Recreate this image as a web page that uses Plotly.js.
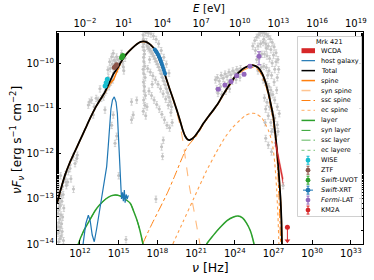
<!DOCTYPE html>
<html><head><meta charset="utf-8">
<script src="https://cdn.plot.ly/plotly-3.0.1.min.js"></script>
<style>html,body{margin:0;padding:0;background:#fff}#plot{width:374px;height:280px}</style>
</head><body><div id="plot"></div>
<script>
// All values are log10(nu / Hz) and log10(nuFnu / erg s^-1 cm^-2).
const totalNu = [10.22,10.5,10.84,11.2,11.6,12.0,12.4,12.8,13.2,13.6,13.94,14.3,14.6,14.97,15.3,15.6,16.01,16.4,16.7,16.91,17.2,17.5,17.82,18.1,18.46,18.75,18.98,19.25,19.5,19.75,19.95,20.15,20.35,20.5,20.7,20.92,21.25,21.57,22.0,22.35,22.7,23.0,23.5,24.02,24.5,24.8,25.1,25.44,25.8,26.1,26.4,26.61,26.8,27.0,27.12,27.25,27.38,27.48,27.56,27.62,27.66];
const totalF  = [-13.10,-12.8,-12.47,-12.2,-11.95,-11.7,-11.45,-11.2,-10.97,-10.78,-10.62,-10.4,-10.22,-10.06,-9.9,-9.78,-9.66,-9.56,-9.51,-9.50,-9.52,-9.58,-9.69,-9.86,-10.13,-10.38,-10.58,-10.8,-11.02,-11.25,-11.45,-11.6,-11.68,-11.69,-11.66,-11.6,-11.47,-11.32,-11.15,-11.02,-10.88,-10.73,-10.5,-10.28,-10.14,-10.08,-10.04,-10.03,-10.08,-10.2,-10.42,-10.65,-10.9,-11.2,-11.5,-11.85,-12.3,-12.7,-13.06,-13.5,-14.0];
const spineF  = [-13.10,-12.8,-12.47,-12.2,-11.95,-11.7,-11.45,-11.2,-10.97,-10.78,-10.63,-10.43,-10.35,-10.09,-9.9,-9.78,-9.66,-9.56,-9.51,-9.50,-9.52,-9.58,-9.69,-9.86,-10.13,-10.38,-10.58,-10.8,-11.02,-11.25,-11.45,-11.6,-11.68,-11.69,-11.66,-11.6,-11.47,-11.32,-11.15,-11.02,-10.88,-10.73,-10.5,-10.28,-10.14,-10.08,-10.04,-10.03,-10.08,-10.2,-10.42,-10.65,-10.9,-11.2,-11.5,-11.85,-12.3,-12.7,-13.06,-13.5,-14.0];
const synSpineNu = [10.22,10.84,11.6,12.4,13.2,13.94,14.6,15.3,16.01,16.7,17.2,17.82,18.46,18.98,19.25,19.5,19.75,20.0,20.27,20.5,20.8,21.05,21.3,21.45];
const synSpineF  = [-13.10,-12.47,-11.95,-11.45,-10.97,-10.63,-10.35,-9.9,-9.66,-9.51,-9.52,-9.69,-10.13,-10.6,-10.83,-11.08,-11.35,-11.75,-12.3,-12.75,-13.2,-13.6,-14.0,-14.3];
const sscSpineNu = [16.85,17.5,18.2,18.8,19.4,19.9,20.3,20.6,20.92,21.25,21.57,22.0,22.35,22.7,23.0,23.5,24.02,24.5,24.8,25.1,25.44,25.8,26.1,26.4,26.61,26.8,27.0,27.12,27.25,27.35,27.43,27.5,27.55];
const sscSpineF  = [-14.0,-13.6,-13.2,-12.85,-12.45,-12.1,-11.85,-11.74,-11.64,-11.5,-11.34,-11.17,-11.04,-10.9,-10.75,-10.53,-10.31,-10.18,-10.12,-10.09,-10.08,-10.13,-10.26,-10.48,-10.72,-10.98,-11.3,-11.6,-12.0,-12.5,-13.0,-13.5,-14.0];
const ecSpineNu = [19.2,20.0,20.8,21.8,22.5,23.2,23.8,24.4,24.8,25.2,25.6,26.1,26.6,26.9,27.1,27.25,27.35,27.42];
const ecSpineF  = [-14.0,-13.5,-13.0,-12.38,-12.0,-11.65,-11.42,-11.25,-11.15,-11.1,-11.1,-11.2,-11.47,-11.75,-12.2,-12.8,-13.4,-14.0];
const hostNu = [12.15,12.26,12.45,12.65,12.8,12.95,13.11,13.3,13.55,13.8,14.07,14.2,14.26,14.4,14.52,14.66,14.8,14.9,14.96,15.0,15.08,15.16,15.22,15.3,15.36,15.44,15.5,15.58,15.66,15.75];
const hostF  = [-14.2,-13.91,-13.55,-13.36,-13.5,-13.8,-13.95,-13.65,-13.17,-12.75,-12.28,-11.8,-11.47,-11.0,-10.8,-10.73,-10.85,-11.1,-11.47,-11.75,-12.3,-12.8,-13.0,-12.85,-13.05,-12.8,-13.08,-12.9,-13.0,-12.92];
const synLayerNu = [11.7,11.87,12.3,12.75,13.2,13.53,14.0,14.4,14.75,15.1,15.5,15.91,16.2,16.42,16.65,16.88,17.0];
const synLayerF  = [-14.2,-14.0,-13.7,-13.47,-13.25,-13.13,-13.0,-12.93,-12.91,-12.93,-13.0,-13.1,-13.3,-13.47,-13.7,-14.0,-14.2];
const sscLayerNu = [21.7,21.82,22.3,22.84,23.4,23.9,24.25,24.6,24.9,25.2,25.49,25.6];
const sscLayerF  = [-14.1,-14.0,-13.82,-13.64,-13.48,-13.4,-13.38,-13.42,-13.53,-13.7,-14.0,-14.2];
const wcdaNu = [27.15,27.45,27.75];
const wcdaHi = [-11.70,-12.12,-12.55];
const wcdaLo = [-11.80,-12.24,-12.68];
const wiseNu = [13.95,14.03,14.12];
const wiseF  = [-10.49,-10.42,-10.34];
const ztfNu = [14.66,14.75,14.84];
const ztfF  = [-10.08,-10.05,-10.02];
const uvotNu = [15.22,15.28,15.33];
const uvotF  = [-9.86,-9.83,-9.81];
const xrtNu = [17.80,17.85,17.90,17.95,18.00,18.05,18.10,18.15,18.20,18.25,18.30,18.35,18.40,18.45,18.50,18.55,18.60];
const xrtF  = [-9.68,-9.70,-9.72,-9.74,-9.77,-9.79,-9.82,-9.85,-9.88,-9.92,-9.96,-10.00,-10.04,-10.09,-10.13,-10.18,-10.22];
const fermiNu = [22.72,23.24,23.71,24.15,24.72,25.18,25.88];
const fermiF  = [-10.56,-10.47,-10.39,-10.26,-10.23,-10.05,-9.83];
const fermiHi = [-10.53,-10.44,-10.36,-10.23,-10.20,-10.02,-9.73];
const fermiLo = [-10.59,-10.50,-10.42,-10.29,-10.26,-10.08,-10.02];
const km2aNu = [28.08];
const km2aF  = [-13.63];
const km2aLimit = [-13.93];
const archNu = [
10.28,10.32,10.36,10.30,10.42,10.38,10.48,10.34,10.30,10.52,10.44,10.36,10.58,10.48,10.40,10.30,10.55,10.45,10.35,10.65,10.70,10.60,10.75,10.66,10.82,10.88,10.92,10.50,10.28,10.62,10.72,10.26,10.40,10.55,11.10,11.23,11.23,11.46,11.62,11.75,11.30,11.50,11.80,11.05,10.95,
12.65,12.74,13.03,13.26,13.42,13.65,13.83,13.94,14.04,14.17,14.30,14.46,14.58,14.84,15.10,15.23,15.49,15.36,14.20,14.35,14.50,14.65,14.75,14.95,15.05,15.15,14.40,14.60,14.90,15.30,15.40,14.25,14.55,14.10,13.55,13.95,14.58,14.72,14.46,15.00,15.57,14.85,13.10,12.90,16.00,16.13,16.40,16.00,
16.90,16.92,16.95,16.88,16.98,17.00,16.93,16.96,17.02,16.90,16.95,17.05,16.92,17.00,16.97,17.08,16.94,17.03,16.91,17.10,
17.10,17.30,17.50,17.70,17.90,18.10,18.30,18.50,18.70,18.90,
17.20,17.30,17.40,17.50,17.60,17.70,17.80,17.90,18.00,18.10,18.20,18.30,18.40,18.50,18.60,18.70,18.80,18.90,19.00,19.10,
17.25,17.45,17.65,17.85,18.05,18.25,18.45,18.65,18.85,19.05,17.35,17.55,17.75,17.95,18.15,18.35,18.55,18.75,18.95,19.15,
17.15,17.40,17.60,17.20,18.46,18.33,17.89,18.40,
22.50,22.65,22.80,22.95,23.10,23.25,23.40,23.55,23.70,23.85,24.00,24.15,24.30,24.45,22.60,22.90,23.20,23.50,23.80,24.10,24.40,22.70,23.00,23.30,23.60,
25.40,25.55,25.70,25.85,26.00,26.15,26.30,26.45,26.60,26.75,26.90,27.05,27.20,27.35,
25.60,25.80,26.00,26.20,26.40,26.60,26.80,27.00,27.20,27.40,
25.70,25.90,26.10,26.30,26.50,26.70,26.90,27.10,27.30,
25.80,26.05,26.25,26.45,26.65,26.85,27.05,27.25,
26.20,26.35,26.50,26.65,26.80,26.95,27.10,27.30,27.45,
26.30,26.50,26.70,26.90,27.10,27.30,26.40,26.60,26.80,27.00,27.20,
26.25,26.45,26.55,26.75,26.85,27.15,27.35,26.35,
26.40,26.60,26.85,27.75];
const archF = [
-12.55,-12.70,-12.85,-12.95,-13.00,-13.10,-13.15,-13.25,-13.32,-13.35,-13.45,-13.52,-13.55,-13.62,-13.70,-13.76,-13.82,-13.88,-13.95,-12.72,-12.90,-13.05,-13.20,-13.40,-12.55,-12.45,-12.62,-12.48,-13.62,-13.72,-13.92,-12.80,-13.18,-12.92,-12.39,-12.32,-12.24,-12.06,-12.21,-12.10,-12.55,-12.78,-12.02,-12.62,-12.70,
-10.91,-10.84,-11.13,-10.76,-10.80,-10.76,-10.73,-11.02,-10.58,-10.13,-9.95,-9.84,-9.76,-9.84,-9.95,-9.76,-9.87,-10.06,-10.30,-10.10,-10.00,-9.92,-9.95,-9.90,-10.02,-9.88,-10.40,-10.20,-10.10,-9.95,-10.15,-10.50,-10.35,-10.45,-10.55,-10.62,-11.13,-11.76,-11.36,-12.48,-13.90,-11.60,-10.95,-10.80,-10.84,-11.13,-10.80,-11.24,
-9.35,-9.45,-9.55,-9.62,-9.70,-9.78,-9.85,-9.95,-10.05,-10.12,-10.22,-10.30,-10.40,-10.50,-10.60,-10.70,-10.80,-10.92,-11.05,-11.15,
-9.30,-9.31,-9.33,-9.38,-9.45,-9.55,-9.70,-9.85,-10.00,-10.20,
-9.60,-9.64,-9.68,-9.72,-9.77,-9.82,-9.88,-9.94,-10.00,-10.07,-10.14,-10.22,-10.30,-10.38,-10.46,-10.55,-10.64,-10.74,-10.84,-10.95,
-10.10,-10.18,-10.26,-10.35,-10.45,-10.55,-10.66,-10.78,-10.92,-11.08,-10.60,-10.70,-10.80,-10.90,-11.00,-11.12,-11.24,-11.36,-11.42,-11.30,
-9.50,-9.90,-10.45,-10.95,-11.69,-11.84,-13.00,-12.05,
-10.35,-10.30,-10.38,-10.25,-10.32,-10.22,-10.28,-10.18,-10.24,-10.15,-10.20,-10.12,-10.16,-10.10,-10.55,-10.50,-10.45,-10.42,-10.38,-10.35,-10.30,-10.65,-10.68,-10.60,-10.55,
-9.60,-9.48,-9.40,-9.35,-9.31,-9.30,-9.32,-9.34,-9.38,-9.44,-9.52,-9.62,-9.75,-9.90,
-9.70,-9.60,-9.55,-9.52,-9.55,-9.60,-9.68,-9.80,-9.95,-10.12,
-9.90,-9.82,-9.78,-9.78,-9.82,-9.88,-9.98,-10.12,-10.30,
-10.15,-10.08,-10.05,-10.08,-10.15,-10.25,-10.40,-10.58,
-10.35,-10.40,-10.45,-10.50,-10.58,-10.68,-10.80,-10.95,-11.10,
-10.75,-10.85,-10.95,-11.05,-11.20,-11.35,-11.00,-11.15,-11.30,-11.45,-11.60,
-9.45,-9.65,-10.25,-10.70,-11.50,-11.75,-11.50,-11.30,
-11.65,-11.80,-11.95,-12.70];
const nuTickExp = [12,15,18,21,24,27,30,33];
const eTickExp = [-2,1,4,7,10,13,16,19];
const fTickExp = [-14,-13,-12,-11,-10];
const legendTitle = 'Mrk 421';
const legendNames = ['WCDA','host galaxy','Total','spine','syn spine','ssc spine','ec spine','layer','syn layer','ssc layer','ec layere','WISE','ZTF','<i>Swift</i>-UVOT','<i>Swift</i>-XRT','<i>Fermi</i>-LAT','KM2A'];

const H_EV = Math.log10(4.135667e-15);
const NU_RANGE = [10.22, 33.94];
const F_RANGE = [-14, -9.29];
const P = a => a.map(v => v === null ? null : Math.pow(10, v));
const sup = e => '10<sup>' + (e < 0 ? '\u2212' + (-e) : e) + '</sup>';
const FONT = 'DejaVu Sans, sans-serif';
const ORANGE='#ff7f0e', GREEN='#2ca02c', BLUE='#1f77b4', RED='#d62728', PURPLE='#9467bd', BROWN='#8c564b', CYAN='#17becf';

const traces = [];
traces.push({x:P(archNu), y:P(archF), mode:'markers', marker:{color:'#c2c2c2', size:3},
  error_y:{type:'percent', value:16, color:'#c8c8c8', thickness:0.8, width:1.2},
  error_x:{type:'percent', value:25, color:'#cccccc', thickness:0.7, width:0}, hoverinfo:'skip'});
const line = (xs, ys, color, width, dash, shape) => ({x:P(xs), y:P(ys), mode:'lines',
  line:{color:color, width:width, dash:dash||'solid', shape:shape||'spline', smoothing:0.6}, hoverinfo:'skip'});
traces.push(line(synSpineNu, synSpineF, 'rgba(255,127,14,0.55)', 1.1, 'dash'));
traces.push(line(sscSpineNu, sscSpineF, ORANGE, 1.0, 'dashdot'));
traces.push(line(ecSpineNu, ecSpineF, 'rgba(255,127,14,0.75)', 1.1, 'dot'));
traces.push(line(synLayerNu, synLayerF, GREEN, 1.0, 'dash'));
traces.push(line(sscLayerNu, sscLayerF, 'rgba(44,160,44,0.5)', 1.0, 'dashdot'));
traces.push(line(synLayerNu.concat([null], sscLayerNu), synLayerF.concat([null], sscLayerF), GREEN, 1.5));
traces.push(line(hostNu, hostF, BLUE, 1.2, 'solid', 'linear'));
traces.push(line(totalNu, spineF, ORANGE, 1.5));
traces.push(line(totalNu, totalF, '#000000', 1.8));
// same Total curve on the photon-energy axis (invisible) so the top axis is drawn
traces.push({x:P(totalNu.map(v => v + H_EV)), y:P(totalF), xaxis:'x2', yaxis:'y', mode:'lines',
  line:{color:'rgba(0,0,0,0)', width:0}, hoverinfo:'skip'});
// WCDA butterfly
traces.push({x:P(wcdaNu), y:P(wcdaLo), mode:'lines', line:{color:RED, width:0.5}, hoverinfo:'skip'});
traces.push({x:P(wcdaNu), y:P(wcdaHi), mode:'lines', line:{color:RED, width:0.5}, fill:'tonexty', fillcolor:RED, hoverinfo:'skip'});
const pts = (xs, ys, color, size, extra) => Object.assign({x:P(xs), y:P(ys), mode:'markers',
  marker:{color:color, size:size}, hoverinfo:'skip'}, extra||{});
traces.push(pts(wiseNu, wiseF, CYAN, 5));
traces.push(pts(ztfNu, ztfF, BROWN, 5));
traces.push(pts(uvotNu, uvotF, GREEN, 5));
traces.push(pts(xrtNu, xrtF, BLUE, 4, {error_x:{type:'percent', value:8, color:BLUE, thickness:1, width:0},
  error_y:{type:'percent', value:6, color:BLUE, thickness:1, width:0}}));
const fF = P(fermiF);
traces.push(pts(fermiNu, fermiF, PURPLE, 5, {error_y:{type:'data', symmetric:false,
  array:P(fermiHi).map((v,i)=>v-fF[i]), arrayminus:P(fermiLo).map((v,i)=>fF[i]-v), color:PURPLE, thickness:1, width:2}}));
const kF = P(km2aF);
traces.push(pts(km2aNu, km2aF, RED, 5, {error_y:{type:'data', symmetric:false, array:[0],
  arrayminus:P(km2aLimit).map((v,i)=>kF[i]-v), color:RED, thickness:1, width:0}}));
traces.push(pts(km2aNu, km2aLimit, RED, 5, {marker:{color:RED, size:5, symbol:'triangle-down'}}));

// manual legend (matplotlib style, compact)
const X0=57, X1=363, Y0=32, Y1=244;
const pxX = p => (p - X0)/(X1 - X0);
const pxY = p => (Y1 - p)/(Y1 - Y0);
const shapes = [], annotations = [];
shapes.push({type:'rect', xref:'paper', yref:'paper', x0:pxX(297.5), x1:pxX(361.5), y0:pxY(216.5), y1:pxY(36.5),
  fillcolor:'rgba(255,255,255,0.85)', line:{color:'#d0d0d0', width:1}, layer:'above'});
annotations.push({xref:'paper', yref:'paper', x:pxX(329.5), y:pxY(42), text:legendTitle, showarrow:false,
  xanchor:'center', yanchor:'middle', font:{size:6.5, family:FONT, color:'#000'}});
const legendStyle = [
 {k:'rect', c:RED}, {k:'line', c:BLUE, w:1.2}, {k:'line', c:'#000', w:1.5}, {k:'line', c:ORANGE, w:1.5},
 {k:'line', c:'rgba(255,127,14,0.45)', w:1.5, d:'dash'}, {k:'line', c:ORANGE, w:1, d:'dashdot'},
 {k:'line', c:'rgba(255,127,14,0.5)', w:1.2, d:'dot'}, {k:'line', c:GREEN, w:1.5},
 {k:'line', c:GREEN, w:1, d:'dash'}, {k:'line', c:'rgba(44,160,44,0.5)', w:1.5, d:'dashdot'},
 {k:'line', c:'rgba(44,160,44,0.5)', w:1.2, d:'dot'},
 {k:'pt', c:CYAN}, {k:'pt', c:BROWN}, {k:'pt', c:GREEN}, {k:'pt', c:BLUE, xe:true}, {k:'pt', c:PURPLE}, {k:'pt', c:RED}];
legendNames.forEach((name, i) => {
  const yc = 50.7 + 9.96*i, st = legendStyle[i];
  const ya = pxY(yc), xa = pxX(308);
  if (st.k === 'rect') {
    shapes.push({type:'rect', xref:'paper', yref:'paper', x0:pxX(301.5), x1:pxX(315), y0:pxY(yc+2.5), y1:pxY(yc-2.5),
      fillcolor:st.c, line:{width:0}, layer:'above'});
  } else if (st.k === 'line') {
    shapes.push({type:'line', xref:'paper', yref:'paper', x0:pxX(301.5), x1:pxX(315), y0:ya, y1:ya,
      line:{color:st.c, width:st.w, dash:st.d||'solid'}, layer:'above'});
  } else {
    const base = {xref:'paper', yref:'paper', xsizemode:'pixel', ysizemode:'pixel', xanchor:xa, yanchor:ya, layer:'above'};
    shapes.push(Object.assign({type:'line', x0:0, x1:0, y0:-4, y1:4, line:{color:st.c, width:1}}, base));
    shapes.push(Object.assign({type:'line', x0:-1.5, x1:1.5, y0:4, y1:4, line:{color:st.c, width:1}}, base));
    shapes.push(Object.assign({type:'line', x0:-1.5, x1:1.5, y0:-4, y1:-4, line:{color:st.c, width:1}}, base));
    if (st.xe) shapes.push(Object.assign({type:'line', x0:-5, x1:5, y0:0, y1:0, line:{color:st.c, width:1}}, base));
    shapes.push(Object.assign({type:'circle', x0:-2.4, x1:2.4, y0:-2.4, y1:2.4, fillcolor:st.c, line:{width:0}}, base));
  }
  annotations.push({xref:'paper', yref:'paper', x:pxX(319), y:ya, text:name, showarrow:false,
    xanchor:'left', yanchor:'middle', font:{size:6.5, family:FONT, color:'#000'}});
});
// axis titles
annotations.push({xref:'paper', yref:'paper', x:pxX(17), y:pxY(140), textangle:-90, showarrow:false,
  xanchor:'center', yanchor:'middle',
  text:'<i>\u03bd</i><i>F</i><sub><i>\u03bd</i></sub> [erg s<sup>\u22121</sup> cm<sup>\u22122</sup>]',
  font:{size:12, family:FONT, color:'#000'}});
annotations.push({xref:'paper', yref:'paper', x:pxX(209), y:pxY(8.5), showarrow:false,
  xanchor:'center', yanchor:'middle', text:'<i>E</i> [eV]', font:{size:10.5, family:FONT, color:'#000'}});
annotations.push({xref:'paper', yref:'paper', x:pxX(210), y:pxY(267), showarrow:false,
  xanchor:'center', yanchor:'middle', text:'<i>\u03bd</i> [Hz]', font:{size:12.5, family:FONT, color:'#000'}});

const axBase = {type:'log', showgrid:false, zeroline:false, showline:true, linecolor:'#000', linewidth:1,
  ticks:'inside', ticklen:4, tickcolor:'#000', tickfont:{size:10, family:FONT, color:'#000'}};
const layout = {
  width:374, height:280, margin:{l:57, r:11, t:32, b:36},
  paper_bgcolor:'#fff', plot_bgcolor:'#fff', showlegend:false,
  font:{family:FONT, color:'#000'},
  xaxis:Object.assign({}, axBase, {range:NU_RANGE, tickmode:'array',
    tickvals:P(nuTickExp), ticktext:nuTickExp.map(sup)}),
  xaxis2:Object.assign({}, axBase, {overlaying:'x', side:'top', anchor:'y',
    range:[NU_RANGE[0]+H_EV, NU_RANGE[1]+H_EV], tickmode:'array',
    tickvals:P(eTickExp), ticktext:eTickExp.map(sup)}),
  yaxis:Object.assign({}, axBase, {range:F_RANGE, tickmode:'array', mirror:'ticks',
    tickvals:P(fTickExp), ticktext:fTickExp.map(sup),
    minor:{ticks:'inside', ticklen:2, tickcolor:'#000', showgrid:false}}),
  shapes:shapes, annotations:annotations
};
Plotly.newPlot('plot', traces.map(t => Object.assign({type:'scatter', showlegend:false}, t)), layout, {staticPlot:true});
</script></body></html>
